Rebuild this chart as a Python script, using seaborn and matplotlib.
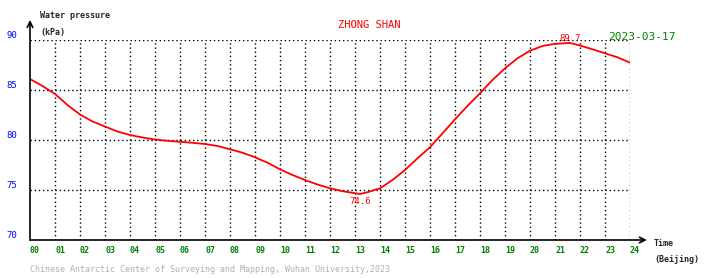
import matplotlib
matplotlib.use("Agg")
import matplotlib.pyplot as plt
import seaborn as sns
import pandas as pd

hours = [0, 0.5, 1, 1.5, 2, 2.5, 3, 3.5, 4, 4.5, 5, 5.5, 6, 6.5, 7, 7.5, 8, 8.5, 9, 9.5,
         10, 10.5, 11, 11.5, 12, 12.5, 13, 13.2, 13.5, 14, 14.5, 15, 15.5, 16, 16.5, 17, 17.5,
         18, 18.5, 19, 19.5, 20, 20.5, 21, 21.6, 22, 22.5, 23, 23.5, 24]
pressure = [86.1, 85.4, 84.6, 83.5, 82.55, 81.85, 81.35, 80.85, 80.5, 80.25, 80.05, 79.92, 79.82,
            79.72, 79.6, 79.4, 79.07, 78.73, 78.27, 77.73, 77.07, 76.5, 76.0, 75.55, 75.17, 74.88,
            74.68, 74.6, 74.78, 75.17, 76.0, 77.0, 78.17, 79.27, 80.67, 82.07, 83.4, 84.67, 86.0,
            87.17, 88.17, 88.93, 89.4, 89.62, 89.7, 89.45, 89.07, 88.67, 88.27, 87.73]
x_labels = [f"{h:02d}" for h in range(25)]
y_ticks = [70, 75, 80, 85, 90]
station = "ZHONG SHAN"
date_str = "2023-03-17"
footer = "Chinese Antarctic Center of Surveying and Mapping, Wuhan University,2023"

sns.set_style("white")
plt.rcParams['font.family'] = ['DejaVu Sans Mono']

W, H = 710, 278
fig = plt.figure(figsize=(W / 100, H / 100), dpi=100)
ax = fig.add_axes([30 / W, (H - 240) / H, 600 / W, 200 / H])

df = pd.DataFrame({"hour": hours, "kPa": pressure})
sns.lineplot(data=df, x="hour", y="kPa", ax=ax, color="red", lw=1.3)

ax.set_xlim(0, 24)
ax.set_ylim(70, 90)
ax.set_xlabel("")
ax.set_ylabel("")
for s in ax.spines.values():
    s.set_visible(False)

# grid
for h in range(1, 25):
    ax.axvline(h, color="black", lw=1, ls=(0, (1, 2)), zorder=0)
for v in [75, 80, 85, 90]:
    ax.axhline(v, color="black", lw=1, ls=(0, (1, 2)), zorder=0)

ax.set_xticks(range(25))
ax.set_xticklabels(x_labels, ha="left", color="green", fontsize=6, fontweight="bold")
ax.set_yticks(y_ticks)
ax.set_yticklabels([str(v) for v in y_ticks], color="blue", fontsize=6.5, va="bottom")
ax.tick_params(axis="x", length=0, pad=4)
ax.tick_params(axis="y", length=0, pad=9)

# axes arrows
ax.annotate("", xy=(0, 1.1), xytext=(0, 0), xycoords="axes fraction",
            arrowprops=dict(arrowstyle="->", lw=1.2, color="black", shrinkA=0, shrinkB=0))
ax.annotate("", xy=(1.028, 0), xytext=(0, 0), xycoords="axes fraction",
            arrowprops=dict(arrowstyle="->", lw=1.2, color="black", shrinkA=0, shrinkB=0))

# min / max labels
imin = pressure.index(min(pressure))
imax = pressure.index(max(pressure))
ax.annotate(f"{pressure[imin]:.1f}", (hours[imin], pressure[imin]), xytext=(0, -2),
            textcoords="offset points", ha="center", va="top", color="red", fontsize=6.5)
ax.annotate(f"{pressure[imax]:.1f}", (hours[imax], pressure[imax]), xytext=(0, 0),
            textcoords="offset points", ha="center", va="bottom", color="red", fontsize=6.5)

def ft(x, y, s, **kw):
    fig.text(x / W, 1 - y / H, s, **kw)

ft(40, 16, "Water pressure", fontsize=6, fontweight="bold", va="center", ha="left")
ft(40, 33, "(kPa)", fontsize=6, fontweight="bold", va="center", ha="left")
ft(369, 25, station, fontsize=7.5, color="red", va="center", ha="center")
ft(642, 37, date_str, fontsize=8, color="green", va="center", ha="center")
ft(654, 244, "Time", fontsize=6, fontweight="bold", va="center", ha="left")
ft(654, 260, "(Beijing)", fontsize=6, fontweight="bold", va="center", ha="left")
ft(30, 270, footer, fontsize=6, color="#b0b0b0", va="center", ha="left")

fig.savefig("out.png", dpi=100, facecolor="white")
